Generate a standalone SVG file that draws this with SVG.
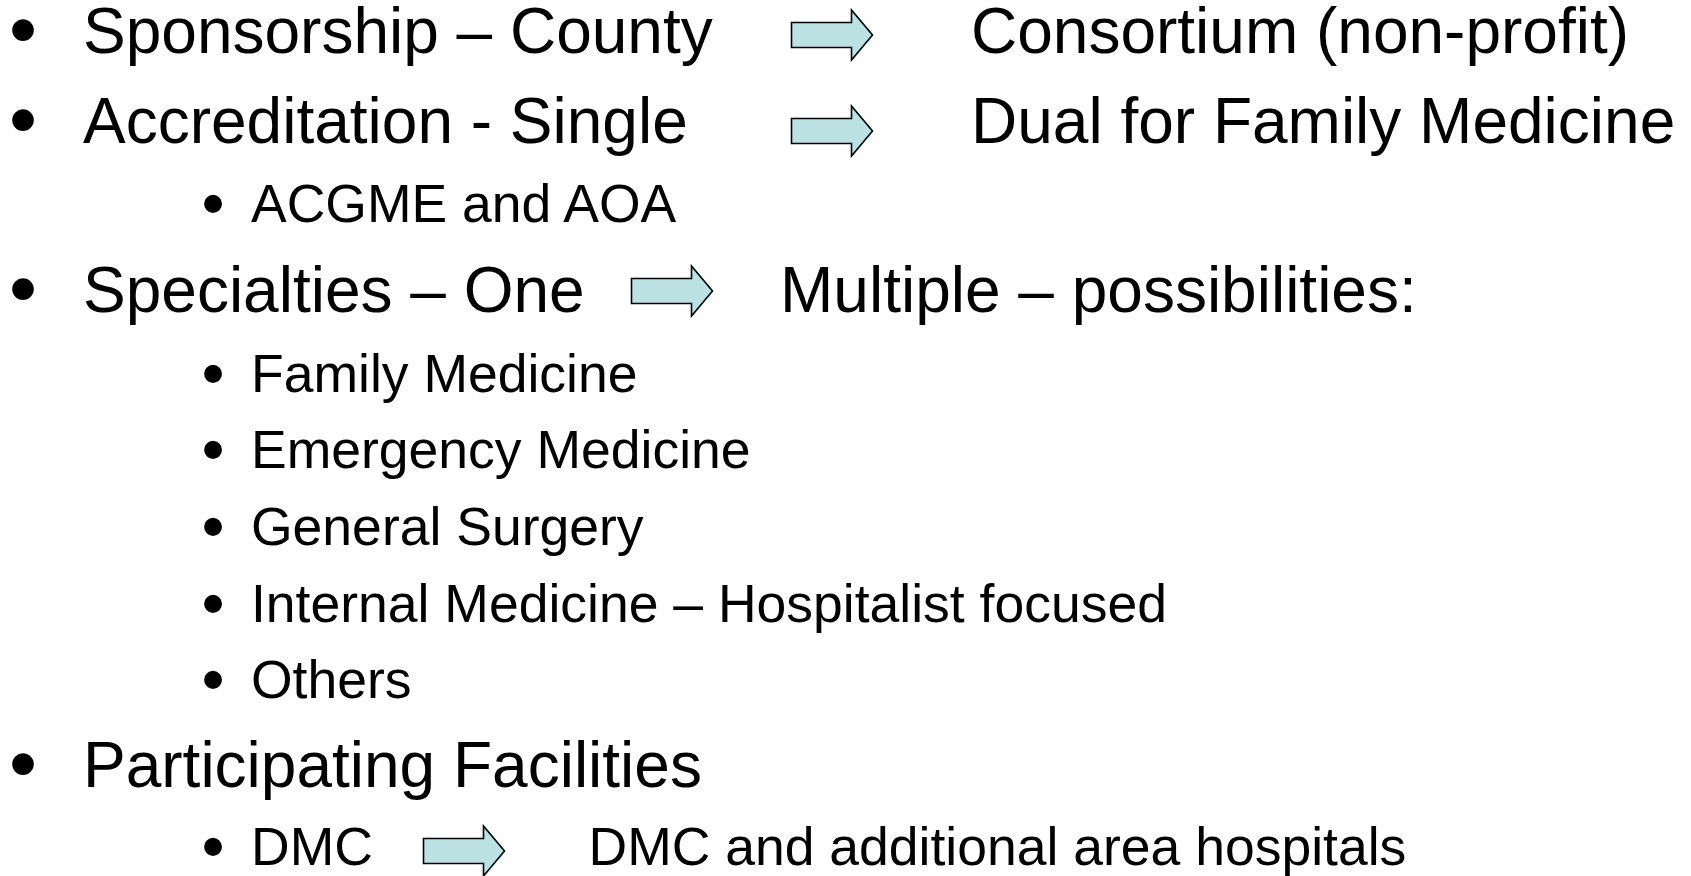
<svg xmlns="http://www.w3.org/2000/svg" xmlns:xlink="http://www.w3.org/1999/xlink" width="1691" height="876" viewBox="0 0 1691 876">
  <style>
    .t1 { font-family: "Liberation Sans", Arial, sans-serif; font-size: 64px; fill: #000; }
    .t2 { font-family: "Liberation Sans", Arial, sans-serif; font-size: 53.5px; fill: #000; }
    .b1 { font-family: "Liberation Sans", Arial, sans-serif; font-size: 80px; fill: #000; text-anchor: middle; }
    .b2 { font-family: "Liberation Sans", Arial, sans-serif; font-size: 66px; fill: #000; text-anchor: middle; }
    .arrow { fill: #BCE1E3; stroke: #000; stroke-width: 1.6; stroke-linejoin: miter; }
  </style>
  <defs>
    <path id="blockArrow" d="M0,-12.5 H60 V-25 L81,0 L60,25 V12.5 H0 Z"/>
  </defs>
  <rect x="0" y="0" width="1691" height="876" fill="#fff"/>

  <g id="sponsorship">
    <text class="b1" x="23" y="57">•</text>
    <text class="t1" x="83" y="53">Sponsorship – County</text>
    <text class="t1" x="971" y="53">Consortium (non-profit)</text>
  </g>

  <g id="accreditation">
    <text class="b1" x="23" y="147">•</text>
    <text class="t1" x="83" y="143">Accreditation - Single</text>
    <text class="t1" x="971" y="143">Dual for Family Medicine</text>
  </g>

  <g id="acgme">
    <text class="b2" x="213" y="226">•</text>
    <text class="t2" x="251" y="222">ACGME and AOA</text>
  </g>

  <g id="specialties">
    <text class="b1" x="23" y="316">•</text>
    <text class="t1" x="83" y="312">Specialties – One</text>
    <text class="t1" x="780" y="312">Multiple – possibilities:</text>
  </g>

  <g id="family-medicine">
    <text class="b2" x="213" y="395.5">•</text>
    <text class="t2" x="251" y="391.5">Family Medicine</text>
  </g>

  <g id="emergency-medicine">
    <text class="b2" x="213" y="472">•</text>
    <text class="t2" x="251" y="468">Emergency Medicine</text>
  </g>

  <g id="general-surgery">
    <text class="b2" x="213" y="549">•</text>
    <text class="t2" x="251" y="545">General Surgery</text>
  </g>

  <g id="internal-medicine">
    <text class="b2" x="213" y="625.5">•</text>
    <text class="t2" x="251" y="621.5">Internal Medicine – Hospitalist focused</text>
  </g>

  <g id="others">
    <text class="b2" x="213" y="702">•</text>
    <text class="t2" x="251" y="698">Others</text>
  </g>

  <g id="participating-facilities">
    <text class="b1" x="23" y="791">•</text>
    <text class="t1" x="83" y="787">Participating Facilities</text>
  </g>

  <g id="dmc">
    <text class="b2" x="213" y="869">•</text>
    <text class="t2" x="251" y="865">DMC</text>
    <text class="t2" x="588.5" y="865">DMC and additional area hospitals</text>
  </g>

  <g id="connectors">
    <use xlink:href="#blockArrow" href="#blockArrow" class="arrow" x="791.5" y="35"/>
    <use xlink:href="#blockArrow" href="#blockArrow" class="arrow" x="791.5" y="131"/>
    <use xlink:href="#blockArrow" href="#blockArrow" class="arrow" x="631.5" y="291"/>
    <use xlink:href="#blockArrow" href="#blockArrow" class="arrow" x="423.5" y="851"/>
  </g>
</svg>
